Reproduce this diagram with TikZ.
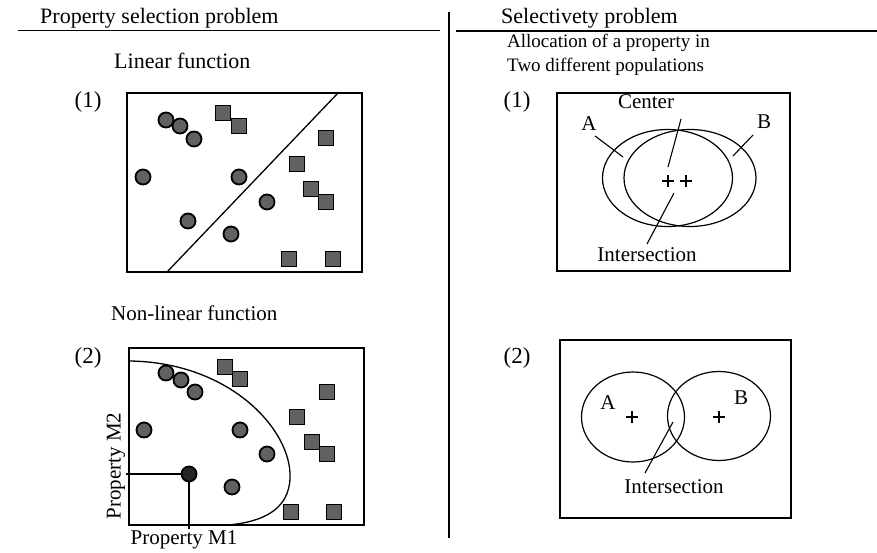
\documentclass[tikz,border=0pt]{standalone}
\usepackage{fontspec}
\setmainfont{Liberation Serif}
\usetikzlibrary{shapes.geometric}
\begin{document}
\begin{tikzpicture}[x=1pt,y=-1pt,
  txt/.style={inner sep=0pt, font=\fontsize{21}{25}\selectfont},
  htxt/.style={inner sep=0pt, font=\fontsize{22}{26}\selectfont},
  stxt/.style={inner sep=0pt, font=\fontsize{19}{23}\selectfont},
  ntxt/.style={inner sep=0pt, font=\fontsize{23}{27}\selectfont},
  dot/.style={circle, draw=black, line width=1.8pt, fill=black!62, minimum size=15pt, inner sep=0pt},
  sq/.style={rectangle, draw=black, line width=1.8pt, fill=black!62, minimum size=15pt, inner sep=0pt},
  frame/.style={draw=black, line width=1.3pt},
  rule/.style={draw=black, line width=1.4pt},
  lead/.style={draw=black, line width=1.1pt},
  ell/.style={ellipse, draw=black, line width=1.2pt, inner sep=0pt},
  plus/.style={draw=black, line width=1.2pt},
]
\useasboundingbox (0,0) rectangle (877,552);

% headers
\node[htxt, anchor=base west] (h1) at (40,23) {Property selection problem};
\node[htxt, anchor=base west] (h2) at (501,23) {Selectivety problem};
\draw[rule] (18,30.5) -- (440,30.5);
\draw[rule] (456,31) -- (877,31);
\draw[rule, line width=1.6pt] (449,12) -- (449,538);

\node[stxt, anchor=base west] (al1) at (507,47) {Allocation of a property in};
\node[stxt, anchor=base west] (al2) at (507,71) {Two different populations};
\node[htxt, anchor=base west] (lf) at (114,68) {Linear function};
\node[txt, anchor=base west] (nlf) at (111,320) {Non-linear function};

\node[ntxt] (n1l) at (88,102) {(1)};
\node[ntxt] (n2l) at (88,358) {(2)};
\node[ntxt] (n1r) at (517,102) {(1)};
\node[ntxt] (n2r) at (517,358) {(2)};

% ---------- left top panel
\draw[frame] (127,93) rectangle (362,272);
\coordinate (lin1) at (167,272);
\coordinate (lin2) at (338,93);
\draw[lead, line width=1.3pt] (lin1) -- (lin2);
\foreach \x/\y [count=\i] in {166/120,180/126,194/139,143/177,239/177,267/202,188/221,231/234}
  \node[dot] (ta\i) at (\x,\y) {};
\foreach \x/\y [count=\i] in {223/113,239/126,326/138,297/164,311/189,326/202,289/259,333/259}
  \node[sq] (tb\i) at (\x,\y) {};

% ---------- left bottom panel
\draw[frame] (129,348) rectangle (364,525);
\coordinate (cv0) at (129,361);
\coordinate (cv1) at (290,478);
\coordinate (cv2) at (228,525);
\draw[lead, line width=1.3pt] (cv0) .. controls (230,362) and (292,430) .. (cv1)
  .. controls (289,510) and (262,522) .. (cv2);
\foreach \x/\y [count=\i] in {166/373,181/380,195/392,144/430,240/430,267/454,232/487}
  \node[dot] (ba\i) at (\x,\y) {};
\node[dot, fill=black!85] (bsel) at (189,474) {};
\foreach \x/\y [count=\i] in {225/367,240/379,327/392,297/417,312/442,327/454,291/512,334/512}
  \node[sq] (bb\i) at (\x,\y) {};
\coordinate (m2end) at (126,474);
\coordinate (m1end) at (189,529);
\draw[lead] (m2end) -- (bsel.west);
\draw[lead, line width=1.4pt] (bsel.south) -- (m1end);
\node[txt, rotate=90] (pm2) at (116,466) {Property M2};
\node[txt, anchor=base] (pm1) at (184,544) {Property M1};

% ---------- right top panel
\draw[frame] (557,93) rectangle (790,271);
\node[ell, minimum width=130pt, minimum height=97pt] (EA) at (667.5,178) {};
\node[ell, minimum width=132pt, minimum height=97pt] (EB) at (690,178) {};
\draw[plus] (662,181) -- (674,181) (668,175) -- (668,187);
\draw[plus] (680,181) -- (692,181) (686,175) -- (686,187);
\node[txt] (cen) at (646,102) {Center};
\node[txt] (la) at (589,124) {A};
\node[txt] (lb) at (764,122) {B};
\node[txt] (int1) at (647,255) {Intersection};
\coordinate (ca) at (681,119);
\coordinate (cb) at (668,167);
\draw[lead] (ca) -- (cb);
\coordinate (aa) at (595,136);
\coordinate (ab) at (623,157);
\draw[lead] (aa) -- (ab);
\coordinate (ba) at (753,135);
\coordinate (bb) at (733,156);
\draw[lead] (ba) -- (bb);
\coordinate (ia) at (674,193);
\coordinate (ib) at (647,244);
\draw[lead] (ia) -- (ib);

% ---------- right bottom panel
\draw[frame] (560,340) rectangle (791,518);
\node[ell, minimum width=103pt, minimum height=90pt] (CA) at (633,417) {};
\node[ell, minimum width=103pt, minimum height=89pt] (CB) at (719,416) {};
\draw[plus] (626,417) -- (638,417) (632,411) -- (632,423);
\draw[plus] (713,417) -- (725,417) (719,411) -- (719,423);
\node[txt] (la2) at (608,403) {A};
\node[txt] (lb2) at (741,398) {B};
\node[txt] (int2) at (674,487) {Intersection};
\coordinate (i2a) at (673,422);
\coordinate (i2b) at (645,473);
\draw[lead] (i2a) -- (i2b);
\end{tikzpicture}
\end{document}
